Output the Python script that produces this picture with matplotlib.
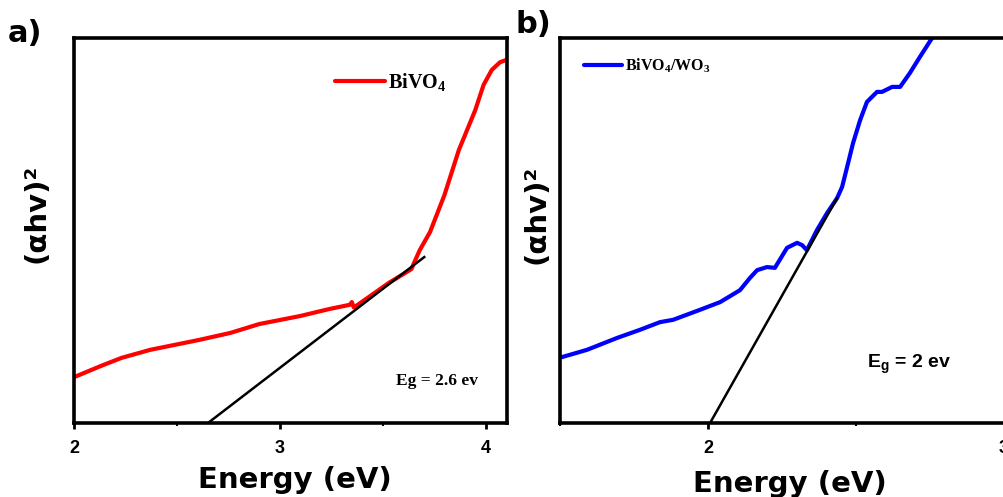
import numpy as np
import matplotlib
matplotlib.use("Agg")
import matplotlib.pyplot as plt

plt.rcParams["mathtext.default"] = "regular"

# ----------------------------
# Data
# ----------------------------
# a) BiVO4
energy_a = [2.00, 2.13, 2.23, 2.37, 2.61, 2.76, 2.90, 3.10, 3.24, 3.34, 3.35, 3.36,
            3.44, 3.53, 3.61, 3.64, 3.65, 3.68, 3.73, 3.80, 3.87, 3.95, 3.99, 4.03,
            4.07, 4.10]
absorb_a = [0.119, 0.148, 0.169, 0.190, 0.216, 0.234, 0.257, 0.278, 0.296, 0.307,
            0.314, 0.300, 0.330, 0.364, 0.390, 0.400, 0.413, 0.449, 0.496, 0.592,
            0.709, 0.813, 0.878, 0.917, 0.937, 0.943]
fit_a_x = [2.651, 3.702]
fit_a_y = [0.0, 0.431]

# b) BiVO4/WO3
energy_b = [1.497, 1.591, 1.693, 1.770, 1.838, 1.882, 1.973, 2.041, 2.108, 2.142,
            2.166, 2.199, 2.226, 2.267, 2.301, 2.318, 2.334, 2.368, 2.402, 2.436,
            2.453, 2.470, 2.490, 2.514, 2.537, 2.571, 2.588, 2.622, 2.649, 2.682,
            2.716, 2.757]
absorb_b = [0.169, 0.190, 0.221, 0.242, 0.262, 0.268, 0.294, 0.314, 0.345, 0.377,
            0.397, 0.405, 0.403, 0.455, 0.468, 0.462, 0.449, 0.501, 0.545, 0.584,
            0.613, 0.665, 0.727, 0.787, 0.834, 0.860, 0.860, 0.873, 0.873, 0.909,
            0.951, 1.000]
fit_b_x = [2.007, 2.436]
fit_b_y = [0.0, 0.584]

xticks_a = [2, 3, 4]
xticks_b = [2, 3]

# ----------------------------
# Figure
# ----------------------------
W, H = 1004, 497
fig = plt.figure(figsize=(W / 100, H / 100), dpi=100)


def px(x, y):
    return x / W, 1 - y / H


ax_a = fig.add_axes([74 / W, 1 - 423 / H, 433 / W, 385 / H])
# panel b runs past the right edge of the image, as in the cropped original
ax_b = fig.add_axes([560 / W, 1 - 423 / H, 452 / W, 385 / H])

tick_font = dict(family="Liberation Sans", weight="bold", size=13)

for ax, xlim, ticks in [(ax_a, (2.0, 4.104), xticks_a), (ax_b, (1.5, 3.027), xticks_b)]:
    ax.set_yticks([])
    ax.set_xticks(ticks)
    ax.set_xticks(np.arange(1.5, 4.6, 0.5), minor=True)
    ax.set_xticklabels([str(t) for t in ticks], fontdict=tick_font)
    ax.set_xlim(*xlim)
    ax.set_ylim(0, 1)
    ax.tick_params(axis="x", which="major", direction="out", length=4, width=2, pad=8)
    ax.tick_params(axis="x", which="minor", direction="out", length=2.5, width=1.5)
    for s in ax.spines.values():
        s.set_linewidth(2.6)

# panel a
ax_a.plot(energy_a, absorb_a, color="#ff0000", lw=3, label="BiVO$_4$",
          solid_capstyle="round", solid_joinstyle="round")
ax_a.plot(fit_a_x, fit_a_y, color="black", lw=1.8)
ax_a.legend(loc="center left", bbox_to_anchor=px(335, 82), bbox_transform=fig.transFigure,
            frameon=False, borderpad=0, borderaxespad=0, handlelength=2.5,
            handletextpad=0.15,
            prop=dict(family="Liberation Serif", weight="bold", size=14.5))
fig.text(*px(396, 385), "Eg = 2.6 ev", family="Liberation Serif", weight="bold",
         fontsize=12.5, va="baseline", ha="left")

# panel b
ax_b.plot(energy_b, absorb_b, color="#0000ff", lw=3, label="BiVO$_4$/WO$_3$",
          solid_capstyle="round", solid_joinstyle="round")
ax_b.plot(fit_b_x, fit_b_y, color="black", lw=1.8)
ax_b.legend(loc="center left", bbox_to_anchor=px(584, 66), bbox_transform=fig.transFigure,
            frameon=False, borderpad=0, borderaxespad=0, handlelength=2.4,
            handletextpad=0.15,
            prop=dict(family="Liberation Serif", weight="bold", size=11.5))
fig.text(*px(867, 368), "E$_g$ = 2 ev", family="Liberation Sans", weight="bold",
         fontsize=14, va="baseline", ha="left")

# axis labels
label_font = dict(family="DejaVu Sans", weight="bold", fontsize=21)
fig.text(*px(295, 488), "Energy (eV)", ha="center", va="baseline", **label_font)
fig.text(*px(790, 492), "Energy (eV)", ha="center", va="baseline", **label_font)
fig.text(*px(37, 213), "(αhv)²", ha="center", va="center", rotation=90, **label_font)
fig.text(*px(537, 214), "(αhv)²", ha="center", va="center", rotation=90, **label_font)

# panel letters
fig.text(*px(8, 42), "a)", ha="left", va="baseline", family="DejaVu Sans",
         weight="bold", fontsize=22)
fig.text(*px(516, 33), "b)", ha="left", va="baseline", family="DejaVu Sans",
         weight="bold", fontsize=22)

fig.savefig("out.png", dpi=100)
